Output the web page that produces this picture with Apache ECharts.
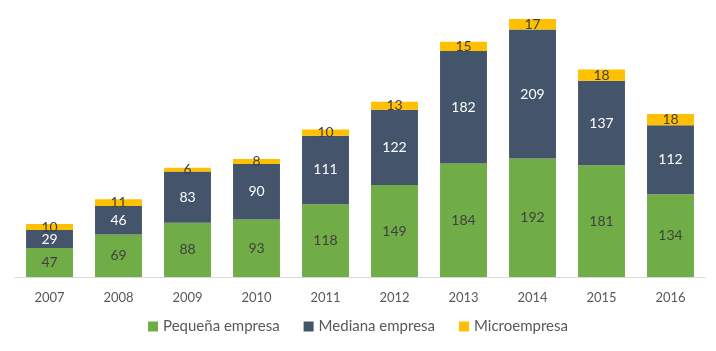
<!DOCTYPE html>
<html>
<head>
<meta charset="utf-8">
<script src="https://cdn.jsdelivr.net/npm/echarts@6/dist/echarts.min.js"></script>
<style>
  html, body { margin: 0; padding: 0; background: #fff; }
  #chart { width: 716px; height: 351px; }
</style>
</head>
<body>
<div id="chart"></div>
<script>
const years = ["2007", "2008", "2009", "2010", "2011", "2012", "2013", "2014", "2015", "2016"];
const pequena = [47, 69, 88, 93, 118, 149, 184, 192, 181, 134];
const mediana = [29, 46, 83, 90, 111, 122, 182, 209, 137, 112];
const micro = [10, 11, 6, 8, 10, 13, 15, 17, 18, 18];

const font = "Lato, 'Open Sans', sans-serif";
const chart = echarts.init(document.getElementById("chart"));

const mkLabel = (color) => ({
  show: true,
  position: "inside",
  color: color,
  fontFamily: font,
  fontSize: 14,
});

chart.setOption({
  animation: false,
  textStyle: { fontFamily: font },
  grid: { left: 15, right: 11, top: 19, bottom: 74, containLabel: false },
  legend: {
    bottom: 12,
    itemWidth: 10,
    itemHeight: 10,
    itemGap: 24,
    icon: "rect",
    textStyle: { color: "#595959", fontSize: 15, fontFamily: font },
    data: ["Pequeña empresa", "Mediana empresa", "Microempresa"],
  },
  xAxis: {
    type: "category",
    data: years,
    axisLine: { lineStyle: { color: "#d9d9d9" } },
    axisTick: { show: false },
    axisLabel: { color: "#595959", fontSize: 13, margin: 14, fontFamily: font },
  },
  yAxis: {
    type: "value",
    show: false,
    min: 0,
    max: 418,
    splitLine: { show: false },
  },
  series: [
    {
      name: "Pequeña empresa",
      type: "bar",
      stack: "total",
      barWidth: "68%",
      data: pequena,
      itemStyle: { color: "#70ad47" },
      label: mkLabel("#404040"),
    },
    {
      name: "Mediana empresa",
      type: "bar",
      stack: "total",
      data: mediana,
      itemStyle: { color: "#44546a" },
      label: mkLabel("#ffffff"),
    },
    {
      name: "Microempresa",
      type: "bar",
      stack: "total",
      data: micro,
      itemStyle: { color: "#ffc000" },
      label: mkLabel("#404040"),
    },
  ],
});
</script>
</body>
</html>
